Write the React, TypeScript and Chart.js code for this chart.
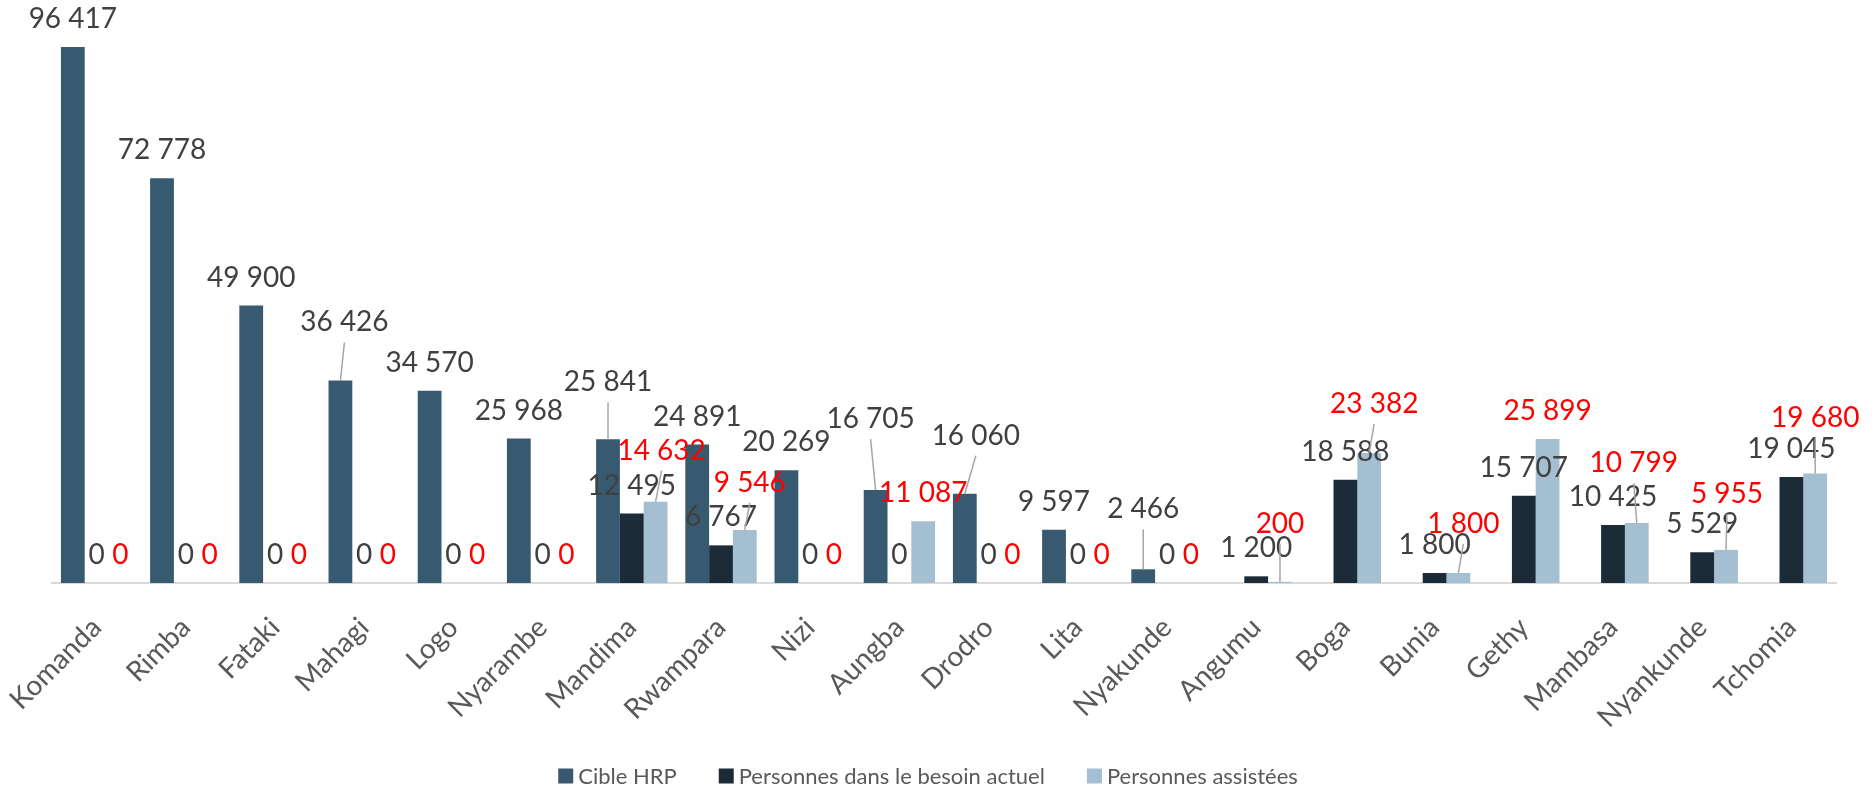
import React, { useEffect, useRef } from "react";
import { Chart, registerables } from "chart.js";

Chart.register(...registerables);

const categories = [
  "Komanda", "Rimba", "Fataki", "Mahagi", "Logo", "Nyarambe", "Mandima", "Rwampara", "Nizi", "Aungba",
  "Drodro", "Lita", "Nyakunde", "Angumu", "Boga", "Bunia", "Gethy", "Mambasa", "Nyankunde", "Tchomia",
];

const cibleHRP = [
  96417, 72778, 49900, 36426, 34570, 25968, 25841, 24891, 20269, 16705,
  16060, 9597, 2466, null, null, null, null, null, null, null,
];

const besoinActuel = [
  0, 0, 0, 0, 0, 0, 12495, 6767, 0, 0,
  0, 0, 0, 1200, 18588, 1800, 15707, 10425, 5529, 19045,
];

const assistees = [
  0, 0, 0, 0, 0, 0, 14632, 9546, 0, 11087,
  0, 0, 0, 200, 23382, 1800, 25899, 10799, 5955, 19680,
];

const seriesNames = ["Cible HRP", "Personnes dans le besoin actuel", "Personnes assistées"];
const seriesColors = ["#375A71", "#1C2B38", "#A4BFD2"];
const labelColors = ["#404040", "#404040", "#FF0000"];

// manual label displacements (px) for labels moved away from their bars (with leader lines)
const labelShift: Record<number, Record<number, [number, number]>> = {
  0: { 3: [4, -30], 6: [0, -29], 9: [-5, -43], 10: [11, -30], 12: [0, -32] },
  1: {},
  2: { 6: [6, -23], 7: [5, -19], 13: [0, -30], 14: [5, -21], 15: [5, -21], 17: [-3, -32], 18: [1, -28], 19: [0, -28] },
};

const fmt = (v: number) => String(v).replace(/\B(?=(\d{3})+(?!\d))/g, " ");

const FONT = "Lato";

const dataLabelPlugin = {
  id: "dataLabelsCustom",
  afterDatasetsDraw(chart: any) {
    const ctx = chart.ctx;
    ctx.save();
    chart.data.datasets.forEach((ds: any, di: number) => {
      const meta = chart.getDatasetMeta(di);
      meta.data.forEach((el: any, i: number) => {
        const v = ds.data[i];
        if (v === null || v === undefined) return;
        const shift = labelShift[di] && labelShift[di][i];
        const dx = shift ? shift[0] : 0;
        const dy = shift ? shift[1] : 0;
        const x = el.x;
        const top = el.y;
        if (shift) {
          ctx.strokeStyle = "#A6A6A6";
          ctx.lineWidth = 1.5;
          ctx.beginPath();
          ctx.moveTo(x + dx, top - 8 + dy);
          ctx.lineTo(x, top);
          ctx.stroke();
        }
        ctx.font = `28px ${FONT}`;
        ctx.fillStyle = labelColors[di];
        ctx.textAlign = "center";
        ctx.textBaseline = "alphabetic";
        ctx.fillText(fmt(v), x + dx, top - 19 + dy);
      });
    });
    ctx.restore();
  },
};

const legendPlugin = {
  id: "bottomLegendCustom",
  afterDraw(chart: any) {
    const ctx = chart.ctx;
    ctx.save();
    ctx.font = `22px ${FONT}`;
    const box = 15;
    const gapText = 5;
    const gapItem = 42;
    const items = chart.data.datasets.map((d: any) => ({ text: d.label, color: d.backgroundColor }));
    const widths = items.map((it: any) => box + gapText + ctx.measureText(it.text).width);
    const total = widths.reduce((a: number, b: number) => a + b, 0) + gapItem * (items.length - 1);
    let x = 928 - total / 2;
    const cy = 776;
    items.forEach((it: any, k: number) => {
      ctx.fillStyle = it.color;
      ctx.fillRect(x, cy - box / 2, box, box);
      ctx.fillStyle = "#595959";
      ctx.textAlign = "left";
      ctx.textBaseline = "middle";
      ctx.fillText(it.text, x + box + gapText, cy + 1);
      x += widths[k] + gapItem;
    });
    ctx.restore();
  },
};

export default function App() {
  const ref = useRef<HTMLCanvasElement | null>(null);

  useEffect(() => {
    if (!ref.current) return;
    const chart = new Chart(ref.current, {
      type: "bar",
      data: {
        labels: categories,
        datasets: [
          { label: seriesNames[0], data: cibleHRP, backgroundColor: seriesColors[0] },
          { label: seriesNames[1], data: besoinActuel, backgroundColor: seriesColors[1] },
          { label: seriesNames[2], data: assistees, backgroundColor: seriesColors[2] },
        ],
      },
      options: {
        responsive: false,
        animation: false,
        devicePixelRatio: 1,
        layout: { padding: { left: 52, right: 36, top: 27, bottom: 0 } },
        datasets: { bar: { categoryPercentage: 0.8, barPercentage: 1.0, borderWidth: 0 } },
        plugins: { legend: { display: false }, tooltip: { enabled: false } },
        scales: {
          x: {
            grid: { display: false, drawTicks: false },
            border: { display: true, color: "#D9D9D9", width: 2 },
            ticks: {
              color: "#595959",
              font: { family: FONT, size: 28 },
              minRotation: 45,
              maxRotation: 45,
              autoSkip: false,
              padding: 28,
            },
            afterFit: (scale: any) => {
              scale.height = 785 - 583;
              scale.paddingLeft = 0;
              scale.paddingRight = 0;
            },
          },
          y: { display: false, min: 0, max: 100000 },
        },
      } as any,
      plugins: [dataLabelPlugin, legendPlugin],
    });
    return () => chart.destroy();
  }, []);

  return (
    <div style={{ position: "absolute", left: 0, top: 0, width: 1872, height: 785, background: "#fff" }}>
      <canvas ref={ref} width={1872} height={785} style={{ display: "block", width: 1872, height: 785 }} />
    </div>
  );
}
